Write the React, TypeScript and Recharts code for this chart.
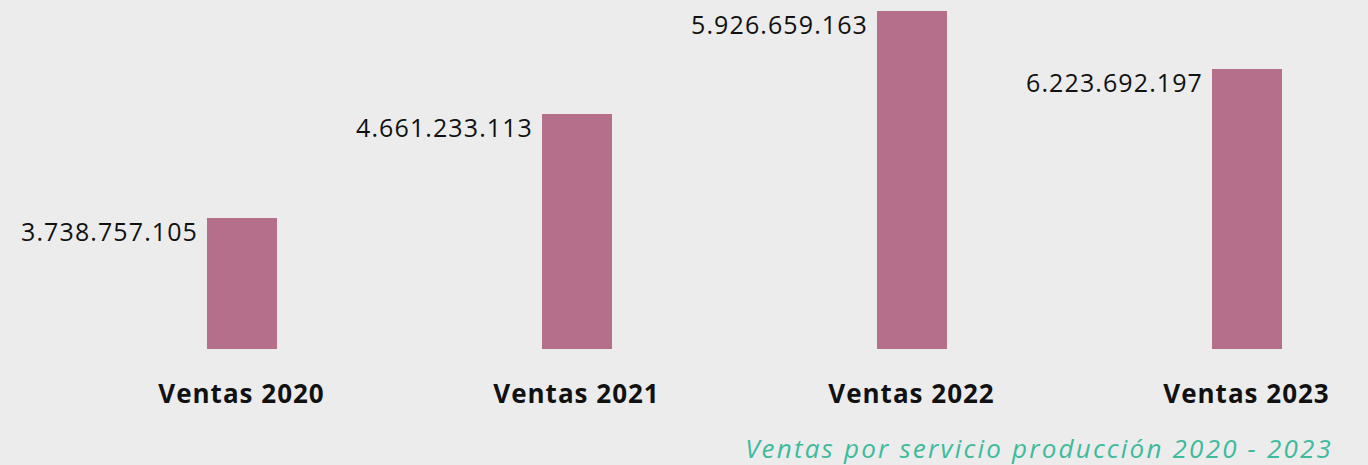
import { BarChart, Bar, XAxis, YAxis, LabelList } from 'recharts';

// categories and values
const categories = ['Ventas 2020', 'Ventas 2021', 'Ventas 2022', 'Ventas 2023'];
// printed totals
const salesLabels = ['3.738.757.105', '4.661.233.113', '5.926.659.163', '6.223.692.197'];
// bar lengths as drawn in the picture (the original bars are not to scale with the printed totals)
const barLengths = [2297000000, 4121000000, 5926659163, 4910000000];

const BAR_COLOR = '#b56f8a';
const BG = '#ececec';
const FONT = '"Open Sans", "Noto Sans", sans-serif';

const data = categories.map((name, i) => ({
  name,
  length: barLengths[i],
  label: salesLabels[i],
}));

const ValueLabel = (props: any) => {
  const { x, y, value } = props;
  return (
    <text
      x={x - 9}
      y={y + 23}
      textAnchor="end"
      fill="#111"
      fontSize={25}
      fontWeight={500}
      letterSpacing={1.1}
      fontFamily={FONT}
    >
      {value}
    </text>
  );
};

const CategoryTick = (props: any) => {
  const { x, y, payload } = props;
  return (
    <text
      x={x}
      y={y}
      dy={46}
      textAnchor="middle"
      fill="#111"
      fontSize={26}
      fontWeight={700}
      letterSpacing={1}
      fontFamily={FONT}
    >
      {payload.value}
    </text>
  );
};

export default function App() {
  return (
    <div style={{ position: 'absolute', left: 0, top: 0, width: 1368, height: 465, background: BG, overflow: 'hidden' }}>
      <BarChart width={1368} height={465} data={data} margin={{ top: 11, right: 0, bottom: 76, left: 0 }}>
        <XAxis
          dataKey="name"
          axisLine={false}
          tickLine={false}
          height={40}
          padding={{ left: 74, right: -46 }}
          tick={<CategoryTick />}
          interval={0}
        />
        <YAxis hide domain={[0, 'dataMax']} />
        <Bar dataKey="length" fill={BAR_COLOR} barSize={70} isAnimationActive={false}>
          <LabelList dataKey="label" content={<ValueLabel />} />
        </Bar>
      </BarChart>
      <div
        style={{
          position: 'absolute',
          right: 35,
          top: 436,
          fontFamily: FONT,
          fontStyle: 'italic',
          fontWeight: 400,
          fontSize: 26,
          lineHeight: '25px',
          letterSpacing: 2.2,
          color: '#3dbb9c',
          whiteSpace: 'nowrap',
        }}
      >
        Ventas por servicio producción 2020 - 2023
      </div>
    </div>
  );
}
